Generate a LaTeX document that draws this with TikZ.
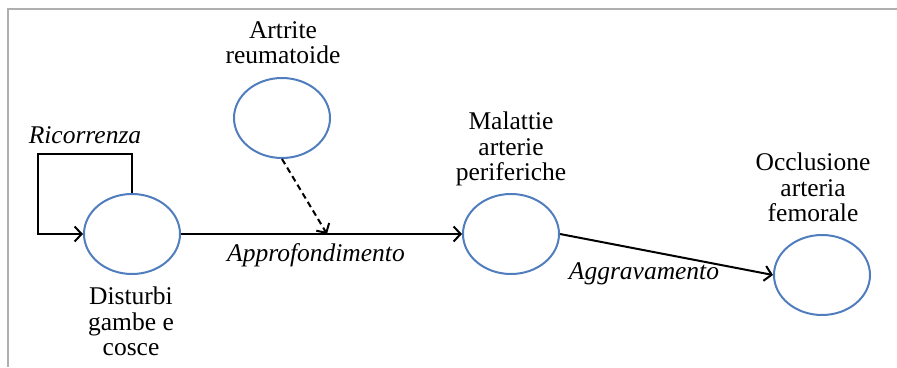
\documentclass[tikz,border=0pt]{standalone}
\usepackage{fontspec}
\setmainfont{Liberation Serif}
\definecolor{stateblue}{RGB}{80, 125, 190}
\definecolor{framegray}{RGB}{175, 175, 175}
\usepackage{tikz}
\usetikzlibrary{shapes.geometric, arrows.meta, positioning}

\begin{document}
\begin{tikzpicture}[x=1pt, y=-1pt, >={Straight Barb[length=7pt, width=15pt]},
    state/.style={draw=stateblue, line width=2pt, ellipse, minimum width=96pt, minimum height=80pt, inner sep=0pt},
    statename/.style={anchor=north, align=center, inner sep=0pt, font=\fontsize{25.5}{25.5}\selectfont},
    edgename/.style={anchor=base, inner sep=0pt, font=\fontsize{25.5}{25.5}\selectfont\itshape},
    flow/.style={->, line width=2pt, black}]
  \useasboundingbox (0,0) rectangle (897,367);
  \draw[framegray, line width=2pt] (897,9) -- (8,9) -- (8,367);

  % States
  \node (disturbi) [state] at (132, 234) {};
  \node (artrite) [state] at (282, 118) {};
  \node (malattie) [state] at (511, 234) {};
  \node (occlusione) [state] at (822, 275) {};

  \node (disturbi-name) [statename] at (131, 287) {Disturbi\\gambe e\\cosce};
  \node (artrite-name) [statename] at (283, 21) {Artrite\\reumatoide};
  \node (malattie-name) [statename] at (511, 112) {Malattie\\arterie\\periferiche};
  \node (occlusione-name) [statename] at (813, 153) {Occlusione\\arteria\\femorale};

  % Transitions
  \coordinate (loop) at (38, 154);
  \coordinate (join) at (327, 234);

  \draw[flow] (disturbi.north) |- (loop) |- (disturbi.west);
  \draw[flow] (disturbi.east) -- (malattie.west);
  \draw[flow, dash pattern=on 6pt off 4pt] (artrite.south) -- (join);
  \draw[flow] (malattie.east) -- (occlusione.west);

  \node (ricorrenza) [edgename] at (85, 143) {Ricorrenza};
  \node (approfondimento) [edgename] at (316, 261) {Approfondimento};
  \node (aggravamento) [edgename] at (644, 279) {Aggravamento};

\end{tikzpicture}
\end{document}
